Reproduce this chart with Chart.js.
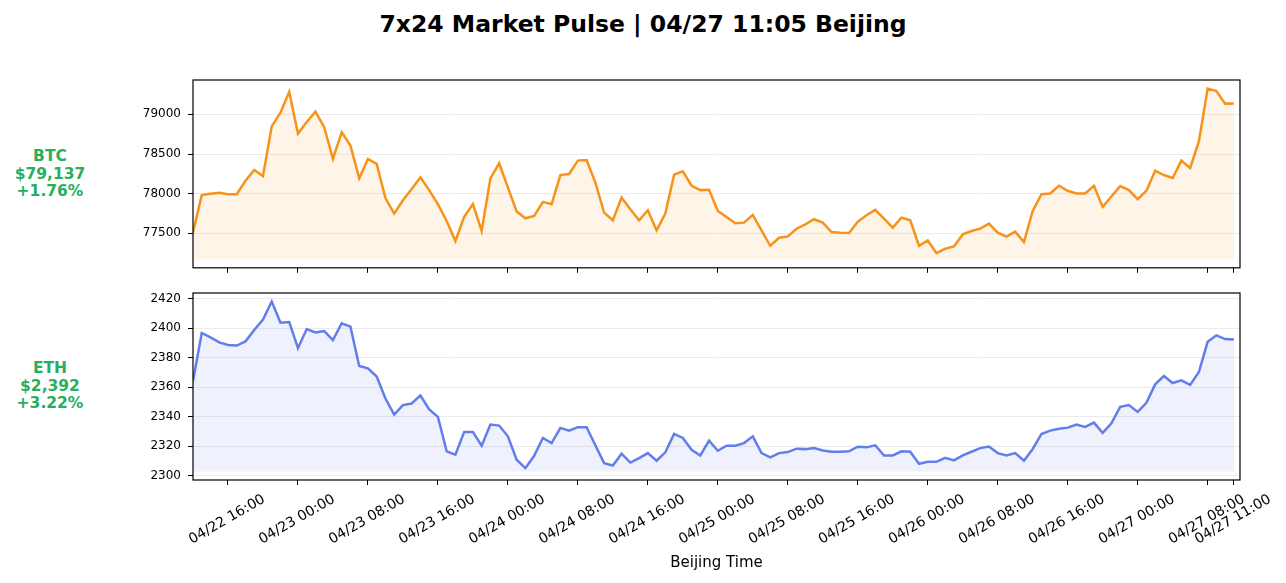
<!DOCTYPE html>
<html>
<head>
<meta charset="utf-8">
<script src="https://cdn.jsdelivr.net/npm/chart.js@4.4.1/dist/chart.umd.min.js"></script>
<style>
    body { margin: 0; width: 1286px; height: 583px; background: #fff; font-family: 'DejaVu Sans', sans-serif; overflow: hidden; }
    #title { position: absolute; top: 8px; left: 0; width: 1286px; text-align: center; font-weight: bold; font-size: 23.5px; line-height: 32px; color: #000; }
    .side { position: absolute; left: 0; width: 100px; text-align: center; font-weight: bold; font-size: 15.5px; line-height: 17.5px; color: #27ae60; }
    canvas { position: absolute; left: 0; }
</style>
</head>
<body>
<div id="title">7x24 Market Pulse | 04/27 11:05 Beijing</div>
<div class="side" id="btc-label" style="top:148px"></div>
<div class="side" id="eth-label" style="top:360px"></div>
<canvas id="btc-chart" width="1286" height="222" style="top:60px"></canvas>
<canvas id="eth-chart" width="1286" height="310" style="top:273px"></canvas>

<script>
// hourly closes, 04/22 12:00 -> 04/27 11:00 (Beijing)
var BTC_VALUES = [
    77510, 77982, 78000, 78011, 77994, 77994, 78163, 78299, 78223, 78848,
    79020, 79283, 78755, 78903, 79034, 78839, 78438, 78776, 78607, 78193,
    78438, 78375, 77944, 77749, 77918, 78058, 78206, 78045, 77868, 77656,
    77403, 77707, 77868, 77530, 78193, 78383, 78079, 77775, 77690, 77720,
    77897, 77868, 78235, 78248, 78417, 78425, 78142, 77762, 77665, 77952,
    77804, 77665, 77792, 77538, 77749, 78240, 78282, 78100, 78045, 78049,
    77783, 77707, 77627, 77635, 77733, 77538, 77344, 77445, 77462, 77559,
    77614, 77678, 77635, 77517, 77509, 77504, 77648, 77728, 77796, 77686,
    77572, 77699, 77665, 77344, 77411, 77251, 77306, 77335, 77487, 77530,
    77559, 77623, 77509, 77458, 77521, 77390, 77783, 77994, 78003, 78100,
    78037, 78003, 78003, 78100, 77834, 77965, 78096, 78045, 77931, 78037,
    78290, 78235, 78197, 78417, 78324, 78658, 79325, 79292, 79135, 79137
];

var ETH_VALUES = [
    2364.2, 2396.8, 2393.8, 2390.4, 2388.6, 2388.3, 2391.1, 2398.8, 2405.9, 2418.2,
    2403.8, 2404.3, 2386.5, 2399.5, 2397.2, 2398.1, 2392.0, 2403.4, 2401.1, 2374.4,
    2372.8, 2367.2, 2352.3, 2341.4, 2347.8, 2348.9, 2354.4, 2344.8, 2339.8, 2316.4,
    2314.1, 2329.6, 2329.6, 2320.2, 2334.6, 2333.9, 2326.6, 2310.7, 2305.0, 2313.4,
    2325.5, 2322.0, 2332.3, 2330.5, 2332.8, 2332.8, 2320.5, 2308.4, 2306.8, 2314.8,
    2308.8, 2311.8, 2315.2, 2310.0, 2315.7, 2328.2, 2325.5, 2317.5, 2313.6, 2323.6,
    2316.8, 2320.2, 2320.2, 2322.0, 2326.6, 2315.2, 2312.3, 2315.2, 2315.9, 2318.2,
    2317.9, 2318.6, 2317.0, 2316.1, 2316.1, 2316.4, 2319.5, 2319.1, 2320.5, 2313.6,
    2313.6, 2316.4, 2316.1, 2307.9, 2309.3, 2309.3, 2312.0, 2310.2, 2313.6, 2316.1,
    2318.6, 2319.6, 2315.2, 2313.6, 2315.2, 2310.0, 2318.0, 2328.2, 2330.5, 2331.8,
    2332.5, 2334.6, 2333.0, 2335.9, 2328.9, 2335.5, 2346.6, 2347.8, 2343.2, 2349.4,
    2361.9, 2367.6, 2362.8, 2364.6, 2361.5, 2370.3, 2390.8, 2395.2, 2392.7, 2392.4
];

// x ticks, in hours from the first point
var X_TICK_HOURS = [4, 12, 20, 28, 36, 44, 52, 60, 68, 76, 84, 92, 100, 108, 116, 119];
var X_TICK_LABELS = [
    '04/22 16:00', '04/23 00:00', '04/23 08:00', '04/23 16:00',
    '04/24 00:00', '04/24 08:00', '04/24 16:00', '04/25 00:00',
    '04/25 08:00', '04/25 16:00', '04/26 00:00', '04/26 08:00',
    '04/26 16:00', '04/27 00:00', '04/27 08:00', '04/27 11:00'
];

var BTC_Y_TICKS = [77500, 78000, 78500, 79000];
var ETH_Y_TICKS = [2300, 2320, 2340, 2360, 2380, 2400, 2420];

var BTC_LABEL = ['BTC', '$79,137', '+1.76%'];
var ETH_LABEL = ['ETH', '$2,392', '+3.22%'];

var X_MAX = 119.7;
var FONT = 'DejaVu Sans';

// box around the plot area, like matplotlib spines
var framePlugin = {
    id: 'frame',
    afterDraw: function (chart) {
        var a = chart.chartArea;
        var ctx = chart.ctx;
        ctx.save();
        ctx.strokeStyle = '#000';
        ctx.lineWidth = 1.2;
        ctx.strokeRect(a.left, a.top, a.right - a.left, a.bottom - a.top);
        ctx.restore();
    }
};

function makeChart(id, values, color, fillColor, yTicks, showX, xHeight) {
    var lo = Math.min.apply(null, values);
    var hi = Math.max.apply(null, values);
    var base = lo * 0.999;
    var pad = (hi - base) * 0.05;

    var points = values.map(function (v, i) { return {x: i, y: v}; });

    return new Chart(document.getElementById(id).getContext('2d'), {
        type: 'line',
        data: {
            datasets: [{
                data: points,
                borderColor: color,
                backgroundColor: fillColor,
                borderWidth: 2.5,
                pointRadius: 0,
                tension: 0,
                fill: {value: base}
            }]
        },
        options: {
            responsive: false,
            animation: false,
            layout: {padding: {left: 0, right: 46, top: 20, bottom: 0}},
            plugins: {legend: {display: false}, tooltip: {enabled: false}},
            scales: {
                x: {
                    type: 'linear',
                    min: 0,
                    max: X_MAX,
                    afterBuildTicks: function (scale) {
                        scale.ticks = X_TICK_HOURS.map(function (h) { return {value: h}; });
                    },
                    afterFit: function (scale) { scale.height = xHeight; },
                    grid: {drawOnChartArea: false, color: '#000', tickLength: 5},
                    border: {display: false},
                    ticks: {
                        display: showX,
                        autoSkip: false,
                        minRotation: 30,
                        maxRotation: 30,
                        padding: 6,
                        labelOffset: 36,
                        color: '#000',
                        font: {family: FONT, size: 14},
                        callback: function (v, i) { return X_TICK_LABELS[i]; }
                    },
                    title: {
                        display: showX,
                        text: 'Beijing Time',
                        color: '#000',
                        font: {family: FONT, size: 15},
                        padding: {top: 0, bottom: 11}
                    }
                },
                y: {
                    min: base - pad,
                    max: hi + pad,
                    afterBuildTicks: function (scale) {
                        scale.ticks = yTicks.map(function (v) { return {value: v}; });
                    },
                    afterFit: function (scale) { scale.width = 193; },
                    grid: {color: '#ebebeb', tickColor: '#000', tickLength: 5},
                    border: {display: false},
                    ticks: {
                        padding: 7,
                        color: '#000',
                        font: {family: FONT, size: 12},
                        callback: function (v) { return String(v); }
                    }
                }
            }
        },
        plugins: [framePlugin]
    });
}

window.onload = function () {
    document.getElementById('btc-label').innerHTML = BTC_LABEL.join('<br>');
    document.getElementById('eth-label').innerHTML = ETH_LABEL.join('<br>');

    makeChart('btc-chart', BTC_VALUES, '#f7931a', 'rgba(247,147,26,0.1)', BTC_Y_TICKS, false, 8);
    makeChart('eth-chart', ETH_VALUES, '#627eea', 'rgba(98,126,234,0.1)', ETH_Y_TICKS, true, 103);
};
</script>
</body>
</html>
